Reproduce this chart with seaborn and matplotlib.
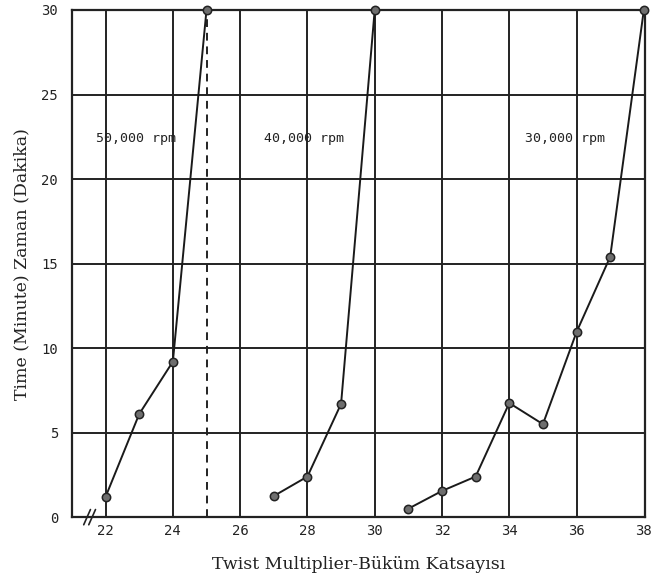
import matplotlib
matplotlib.use("Agg")
import matplotlib.pyplot as plt
import seaborn as sns
import pandas as pd

# Twist multiplier vs. time, one series per spindle speed
speed_labels = ["50,000 rpm", "40,000 rpm", "30,000 rpm"]
twist_50k = [22, 23, 24, 25]
time_50k = [1.2, 6.1, 9.2, 30]
twist_40k = [27, 28, 29, 30]
time_40k = [1.25, 2.4, 6.7, 30]
twist_30k = [31, 32, 33, 34, 35, 36, 37, 38]
time_30k = [0.5, 1.55, 2.4, 6.75, 5.5, 10.95, 15.4, 30]

x_ticks = [22, 24, 26, 28, 30, 32, 34, 36, 38]
y_ticks = [0, 5, 10, 15, 20, 25, 30]
label_pos_x = [22.9, 27.9, 35.65]
label_pos_y = 22.4
limit_line_x = 25

df = pd.concat([
    pd.DataFrame({"twist": twist_50k, "time": time_50k, "speed": speed_labels[0]}),
    pd.DataFrame({"twist": twist_30k, "time": time_30k, "speed": speed_labels[2]}),
    pd.DataFrame({"twist": twist_40k, "time": time_40k, "speed": speed_labels[1]}),
])

sns.set_theme(style="white")
fig = plt.figure(figsize=(6.54, 5.87), dpi=100)
ax = fig.add_axes([0.110, 0.119, 0.876, 0.864])

x_lo, x_hi = 21, 38.03

# grid (the frame itself covers the outer lines)
for xv in x_ticks:
    if x_lo < xv < x_hi - 0.05:
        ax.axvline(xv, color="#222222", lw=1.4, zorder=1)
for yv in y_ticks[1:-1]:
    ax.axhline(yv, color="#222222", lw=1.4, zorder=1)

sns.lineplot(data=df, x="twist", y="time", units="speed", estimator=None,
             color="#1a1a1a", lw=1.4, marker="o", markersize=6,
             markerfacecolor="#6e6e6e", markeredgecolor="#222222",
             markeredgewidth=1.1, ax=ax, zorder=3, legend=False,
             clip_on=False)

ax.plot([limit_line_x, limit_line_x], [0, 30], ls=(0, (4, 3)), color="#222222",
        lw=1.4, zorder=2)

for lab, xp in zip(speed_labels, label_pos_x):
    ax.text(xp, label_pos_y, lab, family="DejaVu Sans Mono", fontsize=9.5,
            ha="center", va="center", color="#222222", zorder=4)

ax.set_xlim(x_lo, x_hi)
ax.set_ylim(0, 30)
ax.set_xticks(x_ticks)
ax.set_yticks(y_ticks)
ax.tick_params(length=0, labelsize=10, colors="#222222")
ax.tick_params(axis="x", pad=5)
ax.tick_params(axis="y", pad=10)
for t in ax.get_xticklabels() + ax.get_yticklabels():
    t.set_family("DejaVu Sans Mono")

for s in ax.spines.values():
    s.set_color("#222222")
    s.set_linewidth(1.6)

# axis break mark near the origin
ax.plot([21.35, 21.55], [-0.45, 0.45], color="#222222", lw=1.2,
        clip_on=False, zorder=5)
ax.plot([21.5, 21.7], [-0.45, 0.45], color="#222222", lw=1.2,
        clip_on=False, zorder=5)

ax.set_xlabel("Twist Multiplier-Büküm Katsayısı", family="DejaVu Serif",
              fontsize=12.5, color="#222222", labelpad=13)
ax.set_ylabel("Time (Minute) Zaman (Dakika)", family="DejaVu Serif",
              fontsize=12.5, color="#222222", labelpad=8)

fig.savefig("out.png", dpi=100)
